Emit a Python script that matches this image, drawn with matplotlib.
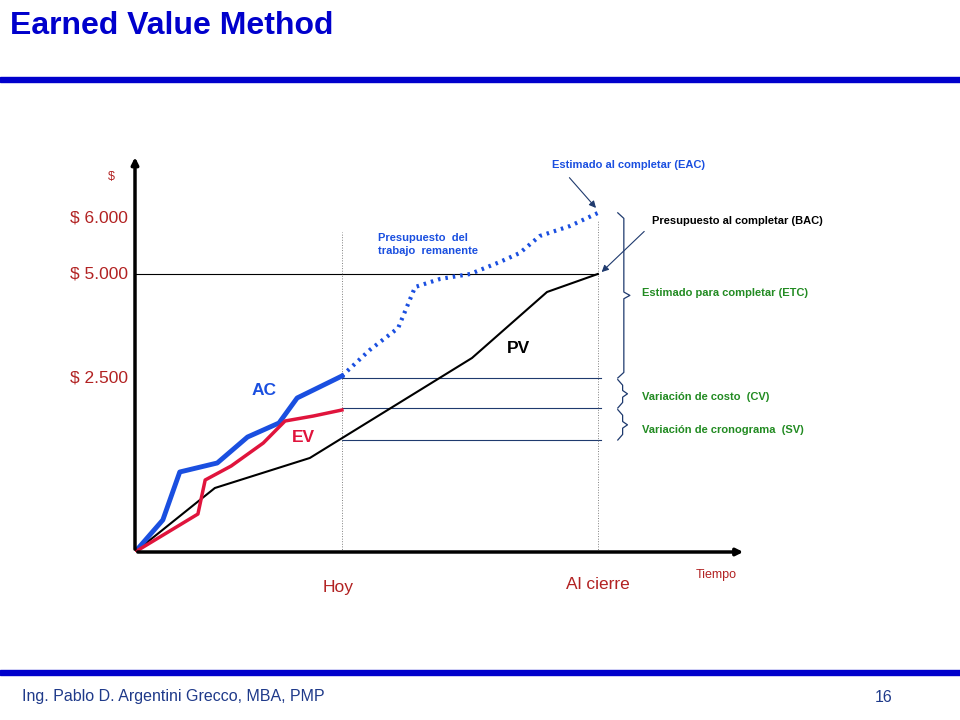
import matplotlib.pyplot as plt

plt.rcParams['font.family'] = 'Liberation Sans'

# time units (0..100 across the axis), values in $
pv_t = [0, 13.2, 28.9, 55.7, 68.1, 76.5]
pv_v = [0, 1151, 1691, 3489, 4676, 5000]
ac_t = [0, 4.6, 7.4, 13.6, 18.6, 23.8, 26.8, 34.2]
ac_v = [0, 576, 1439, 1601, 2068, 2320, 2770, 3165]
ev_t = [0, 10.4, 11.6, 15.9, 21.2, 24.8, 29.5, 34.2]
ev_v = [0, 683, 1295, 1547, 1960, 2356, 2446, 2554]
eac_t = [34.2, 38.8, 43.5, 46.3, 50.4, 55.4, 60.3, 63.6, 66.9, 71.9, 76.5]
eac_v = [3165, 3633, 4029, 4766, 4910, 5000, 5216, 5378, 5683, 5863, 6097]
ytick_pos = [3130, 5000, 6000]
ytick_lab = ['$ 2.500', '$ 5.000', '$ 6.000']
t_hoy = 34.2
t_cierre = 76.5

fig = plt.figure(figsize=(9.6, 7.2), dpi=100)
W, H = 960, 720

# slide decorations
fig.text(10/W, 1-26/H, 'Earned Value Method', fontsize=23, fontweight='bold',
         color='#0000cc', va='center')
fig.patches.append(plt.Rectangle((0, 1-82/H), 1, 5/H, transform=fig.transFigure, color='#0000cc'))
fig.patches.append(plt.Rectangle((0, 1-675/H), 1, 5/H, transform=fig.transFigure, color='#0000cc'))
fig.text(22/W, 1-697/H, 'Ing. Pablo D. Argentini Grecco, MBA, PMP', fontsize=11.5,
         color='#1f3a8a', va='center')
fig.text(875/W, 1-697/H, '16', fontsize=11.5, color='#1f3a8a', va='center')

ax = fig.add_axes([135/W, 1-552/H, 605/W, 392/H])
ax.set_xlim(0, 100)
ax.set_ylim(0, 7050)
for s in ax.spines.values():
    s.set_visible(False)
ax.annotate('', xy=(101, 0), xytext=(0, 0), arrowprops=dict(arrowstyle='-|>', color='black', lw=2.5), annotation_clip=False)
ax.annotate('', xy=(0, 7150), xytext=(0, 0), arrowprops=dict(arrowstyle='-|>', color='black', lw=2.5), annotation_clip=False)
ax.set_xticks([])
ax.set_yticks([])
for p, l in zip(ytick_pos, ytick_lab):
    ax.text(-1.2, p, l, ha='right', va='center', fontsize=12.5, color='#b22222')
ax.text(-3.3, 6740, '$', ha='right', va='center', fontsize=9, color='#b22222')
ax.text(96, -420, 'Tiempo', ha='center', va='center', fontsize=9, color='#b22222')
ax.text(t_hoy - 0.6, -640, 'Hoy', ha='center', va='center', fontsize=12.5, color='#b22222')
ax.text(t_cierre, -580, 'Al cierre', ha='center', va='center', fontsize=12.5, color='#b22222')

ax.plot([0, t_cierre], [5000, 5000], color='black', lw=0.8)
for y in [3130, 2590, 2014]:
    ax.plot([t_hoy, t_cierre + 0.5], [y, y], color='#1f3a6e', lw=0.8)
ax.plot([t_hoy, t_hoy], [0, 5750], color='gray', lw=0.7, ls=':')
ax.plot([t_cierre, t_cierre], [0, 5950], color='gray', lw=0.7, ls=':')

ax.plot(pv_t, pv_v, color='black', lw=1.5)
ax.plot(ac_t, ac_v, color='#1a4fe0', lw=3.5)
ax.plot(ev_t, ev_v, color='#e0143c', lw=2.5)
ax.plot(eac_t, eac_v, color='#1a4fe0', lw=3, ls=(0, (0.6, 1.2)))

ax.text(21.3, 2830, 'AC', fontsize=12.5, fontweight='bold', color='#1a4fe0', ha='center')
ax.text(27.8, 1980, 'EV', fontsize=12.5, fontweight='bold', color='#e0143c', ha='center')
ax.text(63.4, 3580, 'PV', fontsize=12.5, fontweight='bold', color='black', ha='center')

ax.text(40.2, 5320, 'Presupuesto  del\ntrabajo  remanente', fontsize=8, fontweight='bold',
        color='#1a4fe0', va='bottom', linespacing=1.4)
ax.text(69, 6960, 'Estimado al completar (EAC)', fontsize=8, fontweight='bold', color='#1a4fe0', va='center')
ax.text(85.5, 5960, 'Presupuesto al completar (BAC)', fontsize=8, fontweight='bold', color='black', va='center')
ax.text(83.8, 4650, 'Estimado para completar (ETC)', fontsize=8, fontweight='bold', color='#228b22', va='center')
ax.text(83.8, 2780, 'Variación de costo  (CV)', fontsize=8, fontweight='bold', color='#228b22', va='center')
ax.text(83.8, 2200, 'Variación de cronograma  (SV)', fontsize=8, fontweight='bold', color='#228b22', va='center')

ax.annotate('', xy=(t_cierre, 6150), xytext=(71.5, 6770),
            arrowprops=dict(arrowstyle='-|>', color='#1f3a6e', lw=0.8), annotation_clip=False)
ax.annotate('', xy=(t_cierre + 0.3, 5000), xytext=(84.5, 5800),
            arrowprops=dict(arrowstyle='-|>', color='#1f3a6e', lw=0.8), annotation_clip=False)


def brace(y0, y1, x=79.8, w=1.6):
    ym = (y0 + y1) / 2
    ax.plot([x, x + w / 2, x + w / 2, x + w, x + w / 2, x + w / 2, x],
            [y1, y1 - 100, ym + 60, ym, ym - 60, y0 + 100, y0], color='#1f3a6e', lw=0.9)


brace(3130, 6100, w=2.0)
brace(2590, 3100)
brace(2014, 2560)

fig.savefig('out.png', dpi=100)
